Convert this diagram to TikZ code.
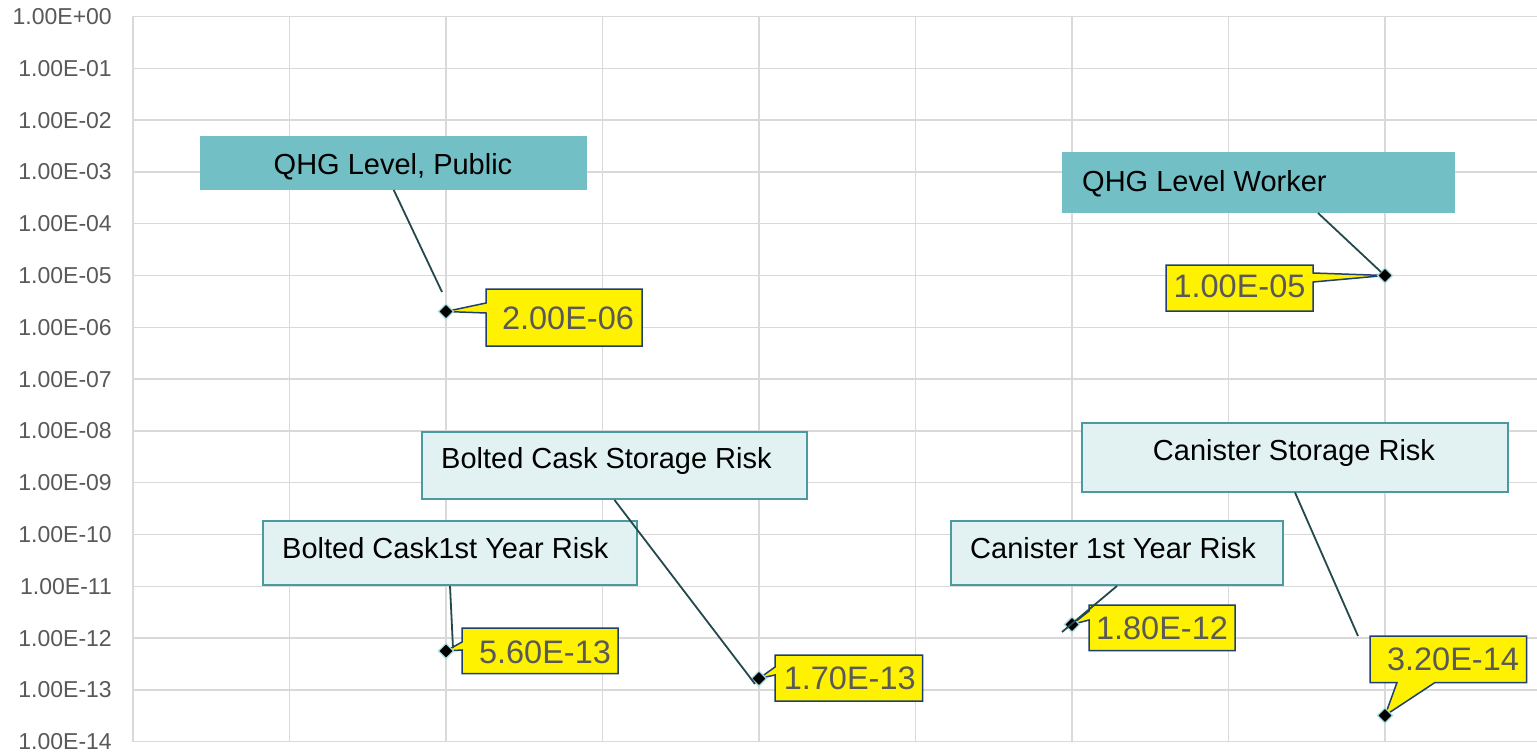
\documentclass[tikz,border=0pt]{standalone}
\usepackage{fontspec}
\setmainfont{Liberation Sans}
\usetikzlibrary{shapes.geometric}
\definecolor{gridgray}{HTML}{D9D9D9}
\definecolor{txtgray}{HTML}{595959}
\definecolor{tealfill}{HTML}{72BFC5}
\definecolor{lightfill}{HTML}{E2F2F3}
\definecolor{lightborder}{HTML}{4A9AA0}
\definecolor{leadercol}{HTML}{23494D}
\definecolor{calloutborder}{HTML}{1F3F6E}
\definecolor{markedge}{HTML}{A8DCE0}
\begin{document}
\begin{tikzpicture}[x=1pt,y=-1pt,
  gridline/.style={draw=gridgray, line width=1.3},
  tealbox/.style={fill=tealfill, draw=none, rectangle, inner sep=0, anchor=north west},
  lightbox/.style={fill=lightfill, draw=lightborder, line width=2, rectangle, inner sep=0, anchor=north west},
  lbl/.style={font=\fontsize{29}{34}\selectfont, text=black, inner sep=0},
  val/.style={font=\fontsize{32.5}{38}\selectfont, text=txtgray, inner sep=0, anchor=base},
  axl/.style={font=\fontsize{23}{27}\selectfont, text=txtgray, inner sep=0, anchor=base east},
  leader/.style={draw=leadercol, line width=1.8},
  callout/.style={fill=yellow, draw=calloutborder, line width=1.5, line join=miter},
  datamark/.style={diamond, fill=black, draw=markedge, line width=1.3, minimum size=15.5, inner sep=0}
]
\useasboundingbox (0,0) rectangle (1537,752);
\fill[white] (0,0) rectangle (1537,752);

% grid
\foreach \k in {0,...,14}{
  \draw[gridline] (133,{16.5+51.8*\k}) -- (1537,{16.5+51.8*\k});
}
\foreach \i in {0,...,8}{
  \draw[gridline] ({133+156.5*\i},16.5) -- ({133+156.5*\i},741.7);
}
% axis labels
\foreach \k/\t in {0/+00,1/-01,2/-02,3/-03,4/-04,5/-05,6/-06,7/-07,8/-08,9/-09,10/-10,11/-11,12/-12,13/-13,14/-14}{
  \node[axl] (ax\k) at (112,{16.5+51.8*\k+8}) {1.00E\t};
}

% data point positions
\coordinate (p1) at (446,311.5);
\coordinate (p2) at (1385,275.5);
\coordinate (p3) at (446,651);
\coordinate (p4) at (759,678.5);
\coordinate (p5) at (1072,624.5);
\coordinate (p6) at (1385,715.5);

% label boxes
\node[tealbox, minimum width=387, minimum height=53.5] (b1) at (200,136) {};
\node[lbl, anchor=base] (t1) at (393,174.3) {QHG Level, Public};
\node[tealbox, minimum width=393, minimum height=61] (b2) at (1062,152) {};
\node[lbl, anchor=base west] (t2) at (1082,191.5) {QHG Level Worker};
\node[lightbox, minimum width=385, minimum height=67] (b3) at (421,431) {};
\node[lbl, anchor=base west] (t3) at (441,468.5) {Bolted Cask Storage Risk};
\node[lightbox, minimum width=374, minimum height=64] (b4) at (262,520) {};
\node[lbl, anchor=base west] (t4) at (282,558) {Bolted Cask1st Year Risk};
\node[lightbox, minimum width=332, minimum height=64] (b5) at (950,520) {};
\node[lbl, anchor=base west] (t5) at (970,558) {Canister 1st Year Risk};
\node[lightbox, minimum width=426, minimum height=68.5] (b6) at (1081,422) {};
\node[lbl, anchor=base] (t6) at (1294,460) {Canister Storage Risk};

% yellow value callouts
\draw[callout] (486,289) -- (642,289) -- (642,346) -- (486,346) -- (486,313) -- (p1) -- (486,303) -- cycle;
\node[val] (v1) at (568,329.5) {2.00E-06};
\draw[callout] (1166,265) -- (1313,265) -- (1313,273) -- (p2) -- (1313,282) -- (1313,311) -- (1166,311) -- cycle;
\node[val] (v2) at (1239.5,297.7) {1.00E-05};
\draw[callout] (462,628) -- (618,628) -- (618,673.5) -- (462,673.5) -- (462,650) -- (p3) -- (462,642) -- cycle;
\node[val] (v3) at (545,663.3) {5.60E-13};
\draw[callout] (775,655) -- (922.5,655) -- (922.5,701) -- (775,701) -- (775,675) -- (p4) -- (775,667) -- cycle;
\node[val] (v4) at (849.7,689.3) {1.70E-13};
\draw[callout] (1089,605) -- (1235,605) -- (1235,650.5) -- (1089,650.5) -- (1089,620) -- (p5) -- (1089,611) -- cycle;
\node[val] (v5) at (1162,639.3) {1.80E-12};
\draw[callout] (1370,636) -- (1526.5,636) -- (1526.5,682.5) -- (1435,682.5) -- (p6) -- (1397,682.5) -- (1370,682.5) -- cycle;
\node[val] (v6) at (1453,670.7) {3.20E-14};

% data markers
\node[datamark] (m1) at (p1) {};
\node[datamark] (m2) at (p2) {};
\node[datamark] (m3) at (p3) {};
\node[datamark] (m4) at (p4) {};
\node[datamark] (m5) at (p5) {};
\node[datamark] (m6) at (p6) {};

% leader lines
\coordinate (e1) at (442,292);
\coordinate (s2) at (1318,213);
\coordinate (e2) at (1381,272);
\coordinate (e3) at (755,684);
\coordinate (e4) at (453,648);
\coordinate (e5) at (1062,632);
\coordinate (e6) at (1358,636);
\draw[leader] (b1.south) -- (e1);
\draw[leader] (s2) -- (e2);
\draw[leader] (b3.south) -- (e3);
\draw[leader] (b4.south) -- (e4);
\draw[leader] (b5.south) -- (e5);
\draw[leader] (b6.south) -- (e6);
\end{tikzpicture}
\end{document}
